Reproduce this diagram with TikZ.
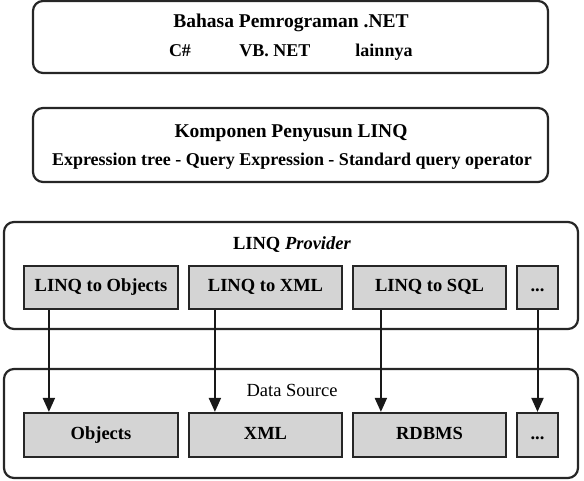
\documentclass[tikz,border=0pt]{standalone}
\usepackage{fontspec}
\setmainfont{Liberation Serif}
\usetikzlibrary{arrows.meta}
\begin{document}
\begin{tikzpicture}[x=1pt,y=-1pt,
  outer/.style={draw=black!85, line width=2.2pt, rounded corners=10pt, inner sep=0pt},
  inbox/.style={draw=black!85, line width=2.2pt, fill=black!17, inner sep=0pt,
    text height=12.5pt, text depth=4pt, font=\fontsize{18.5}{20}\selectfont\bfseries},
  lbl/.style={inner sep=0pt, anchor=base, font=\fontsize{18}{20}\selectfont\bfseries},
  ttl/.style={inner sep=0pt, anchor=base, font=\fontsize{19.5}{22}\selectfont\bfseries},
  arr/.style={line width=2pt, draw=black!90, -{Triangle[length=14pt,width=12pt]}}
]
\useasboundingbox (0,0) rectangle (584,480);
% outer boxes
\node[outer, minimum width=515pt, minimum height=72pt] (lang) at (290.5,37) {};
\node[outer, minimum width=515pt, minimum height=74pt] (komp) at (290.5,145) {};
\node[outer, minimum width=574pt, minimum height=107pt] (prov) at (291,275.5) {};
\node[outer, minimum width=574pt, minimum height=109pt] (src) at (291,423.5) {};
% texts of box 1
\node[ttl] (langt) at (291,27) {Bahasa Pemrograman .NET};
\node[lbl] (cs) at (180,56) {C\#};
\node[lbl] (vb) at (275,56) {VB. NET};
\node[lbl] (lain) at (384,56) {lainnya};
% texts of box 2
\node[ttl] (kompt) at (291,137) {Komponen Penyusun LINQ};
\node[lbl] (komps) at (292,165) {Expression tree - Query Expression - Standard query operator};
% provider
\node[lbl, font=\fontsize{18.5}{20}\selectfont\bfseries] (provt) at (292,249) {LINQ \textit{Provider}};
\node[inbox, minimum width=154pt, minimum height=43pt] (lo) at (101,287.5) {LINQ to Objects};
\node[inbox, minimum width=153pt, minimum height=43pt] (lx) at (265.5,287.5) {LINQ to XML};
\node[inbox, minimum width=153pt, minimum height=43pt] (ls) at (429.5,287.5) {LINQ to SQL};
\node[inbox, minimum width=41pt, minimum height=43pt] (ld) at (537.5,287.5) {...};
% data source
\node[lbl, font=\fontsize{18.5}{20}\selectfont] (srct) at (292,396) {Data Source};
\node[inbox, minimum width=154pt, minimum height=44pt] (o) at (101,435) {Objects};
\node[inbox, minimum width=153pt, minimum height=44pt] (x) at (265.5,435) {XML};
\node[inbox, minimum width=153pt, minimum height=44pt] (r) at (429.5,435) {RDBMS};
\node[inbox, minimum width=41pt, minimum height=44pt] (d) at (537.5,435) {...};
% arrows
\draw[arr] ([xshift=26pt]lo.south west) -- ([xshift=26pt]o.north west);
\draw[arr] ([xshift=27pt]lx.south west) -- ([xshift=27pt]x.north west);
\draw[arr] ([xshift=29pt]ls.south west) -- ([xshift=29pt]r.north west);
\draw[arr] (ld.south) -- (d.north);
\end{tikzpicture}
\end{document}
